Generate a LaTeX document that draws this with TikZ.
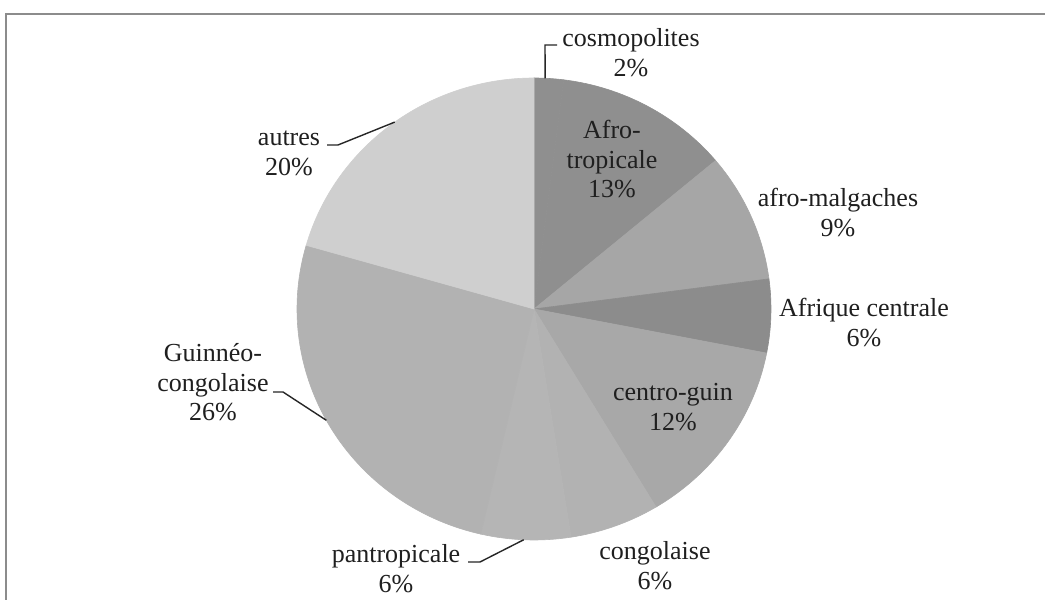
\documentclass[tikz,border=0pt]{standalone}
\usepackage{fontspec}
\usetikzlibrary{calc}
\setmainfont{Liberation Serif}
\newcommand\stk[1]{\begin{tabular}[t]{@{}c@{}}#1\end{tabular}}
\begin{document}
\begin{tikzpicture}[x=1pt,y=1pt]
\tikzset{
  lbl/.style={inner sep=0pt, anchor=base, font=\fontsize{26}{29.5}\selectfont, text=black!88},
  leader/.style={draw=black!85, line width=1.4pt},
  frameline/.style={draw=black!45, line width=1.1pt}
}
\useasboundingbox (0,0) rectangle (1045,600);
\fill[white] (0,0) rectangle (1045,600);
\draw[frameline] (6,-5) -- (6,586) -- (1046,586);
\coordinate (C) at (534,291);
\newcommand\pieslice[3]{\filldraw[fill=#3, draw=#3, line width=0.6pt, line join=round] (C) -- ++({90-#1}:237pt and 231pt) arc[start angle={90-#1}, end angle={90-#2}, x radius=237pt, y radius=231pt] -- cycle;}
\pieslice{0}{7.2}{black!44}
\pieslice{7.2}{50}{black!44}
\pieslice{50}{82.5}{black!35}
\pieslice{82.5}{101}{black!45}
\pieslice{101}{149}{black!34}
\pieslice{149}{171}{black!30}
\pieslice{171}{193}{black!29}
\pieslice{193}{286}{black!30}
\pieslice{286}{360}{black!19}
% labels
\node[lbl] (cos) at (631,553) {\stk{cosmopolites\\2\%}};
\node[lbl] (afrotrop) at (612,461) {\stk{Afro-\\tropicale\\13\%}};
\node[lbl] (afromalg) at (838,393) {\stk{afro-malgaches\\9\%}};
\node[lbl] (afrcent) at (864,283) {\stk{Afrique centrale\\6\%}};
\node[lbl] (centro) at (673,199) {\stk{centro-guin\\12\%}};
\node[lbl] (congo) at (655,40) {\stk{congolaise\\6\%}};
\node[lbl] (pantro) at (396,37) {\stk{pantropicale\\6\%}};
\node[lbl] (guin) at (213,238) {\stk{Guinnéo-\\congolaise\\26\%}};
\node[lbl] (autres) at (289,454) {\stk{autres\\20\%}};
% leader points
\coordinate (cosP) at ($(C)+(87.3:237pt and 231pt)$);
\coordinate (cosK) at (545,555);
\coordinate (cosE) at (557,555);
\coordinate (autP) at ($(C)+(126:237pt and 231pt)$);
\coordinate (autK) at (338,455);
\coordinate (autE) at (327,455);
\coordinate (guiP) at ($(C)+(208.8:237pt and 231pt)$);
\coordinate (guiK) at (283,208);
\coordinate (guiE) at (273,208);
\coordinate (panP) at ($(C)+(267.5:237pt and 231pt)$);
\coordinate (panK) at (480,38);
\coordinate (panE) at (468,38);
\draw[leader] (cosP) -- (cosK) -- (cosE);
\draw[leader] (autE) -- (autK) -- (autP);
\draw[leader] (guiE) -- (guiK) -- (guiP);
\draw[leader] (panE) -- (panK) -- (panP);
\end{tikzpicture}
\end{document}
